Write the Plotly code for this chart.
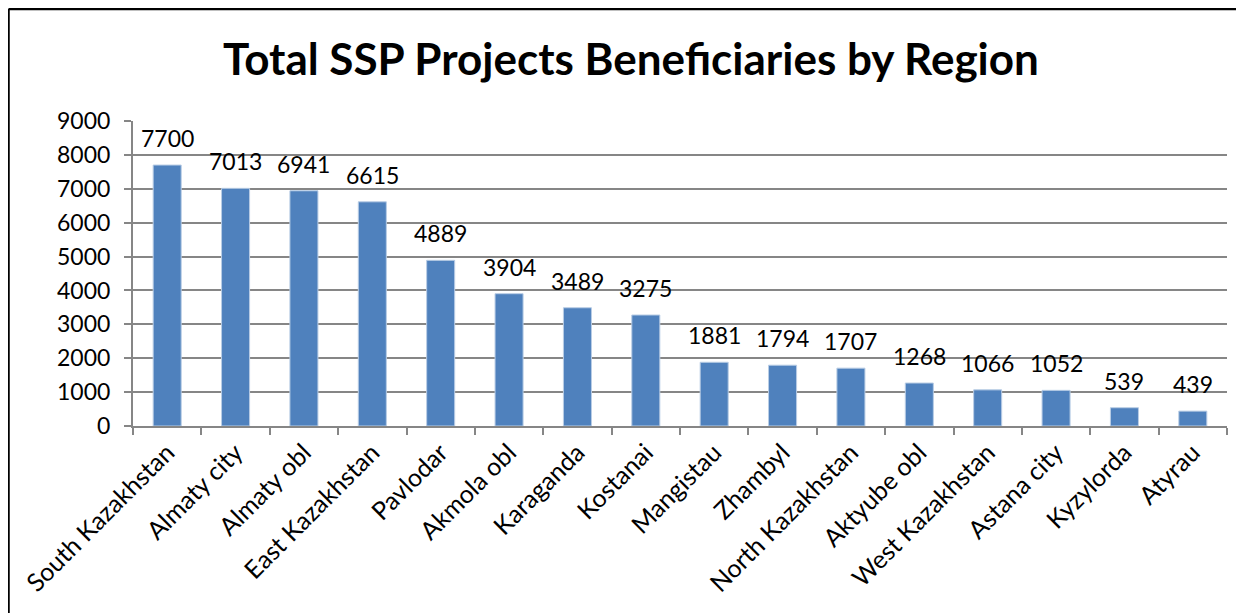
import plotly.graph_objects as go

regions = ["South Kazakhstan", "Almaty city", "Almaty obl", "East Kazakhstan", "Pavlodar",
           "Akmola obl", "Karaganda", "Kostanai", "Mangistau", "Zhambyl", "North Kazakhstan",
           "Aktyube obl", "West Kazakhstan", "Astana city", "Kyzylorda", "Atyrau"]
beneficiaries = [7700, 7013, 6941, 6615, 4889, 3904, 3489, 3275, 1881, 1794, 1707,
                 1268, 1066, 1052, 539, 439]
y_ticks = [0, 1000, 2000, 3000, 4000, 5000, 6000, 7000, 8000, 9000]

FONT = "Lato"
OFF = 8  # page body offset
W, H = 1244 - OFF, 613 - OFF
L, R, T, B = 133 - OFF, 17, 121 - OFF, 187
pw, ph = W - L - R, H - T - B

fig = go.Figure(go.Bar(
    x=regions, y=beneficiaries,
    marker=dict(color="#4F81BD", line=dict(color="#B9CDE5", width=1)),
    cliponaxis=False, width=0.41,
))

for name, val in zip(regions, beneficiaries):
    fig.add_annotation(x=name, y=val, xref="x", yref="y", text=str(val),
                       showarrow=False, yanchor="middle", yshift=27,
                       font=dict(family=FONT, size=23, color="#000000"))

fig.update_layout(
    width=W, height=H,
    margin=dict(l=L, r=R, t=T, b=B, pad=0, autoexpand=False),
    paper_bgcolor="white", plot_bgcolor="white",
    title=dict(text="<b>Total SSP Projects Beneficiaries by Region</b>",
               x=(631 - OFF) / W, xanchor="center", y=1 - (60 - OFF) / H, yanchor="middle",
               font=dict(family=FONT, size=44, color="#000000")),
    showlegend=False,
    font=dict(family=FONT, size=20, color="#000000"),
)
fig.update_xaxes(
    tickangle=-45, tickfont=dict(family=FONT, size=25, color="#000000"),
    showline=True, linecolor="#868686", linewidth=2,
    ticks="outside", ticklen=7, tickcolor="#868686", tickwidth=2,
    tickson="boundaries", showgrid=False, automargin=False,
)
fig.update_yaxes(
    range=[0, 9000], tickvals=y_ticks,
    tickfont=dict(family=FONT, size=23, color="#000000"),
    showgrid=True, gridcolor="#868686", gridwidth=1.5,
    showline=True, linecolor="#868686", linewidth=2,
    ticks="outside", ticklen=7, tickcolor="#868686", tickwidth=1.5,
    ticklabelstandoff=9,
    zeroline=False, automargin=False,
)

# chart frame (left and top edges)
x_left = (0.5 - L) / pw
y_top = 1 + (T - 1) / ph
y_bot = 1 + (T - H - 5) / ph
fig.add_shape(type="line", xref="paper", yref="paper", x0=x_left, x1=x_left,
              y0=y_bot, y1=y_top, line=dict(color="#000000", width=2.5))
fig.add_shape(type="line", xref="paper", yref="paper", x0=x_left, x1=(W + 5 - L) / pw,
              y0=y_top, y1=y_top, line=dict(color="#000000", width=2.5))

fig.write_html("out.html")
